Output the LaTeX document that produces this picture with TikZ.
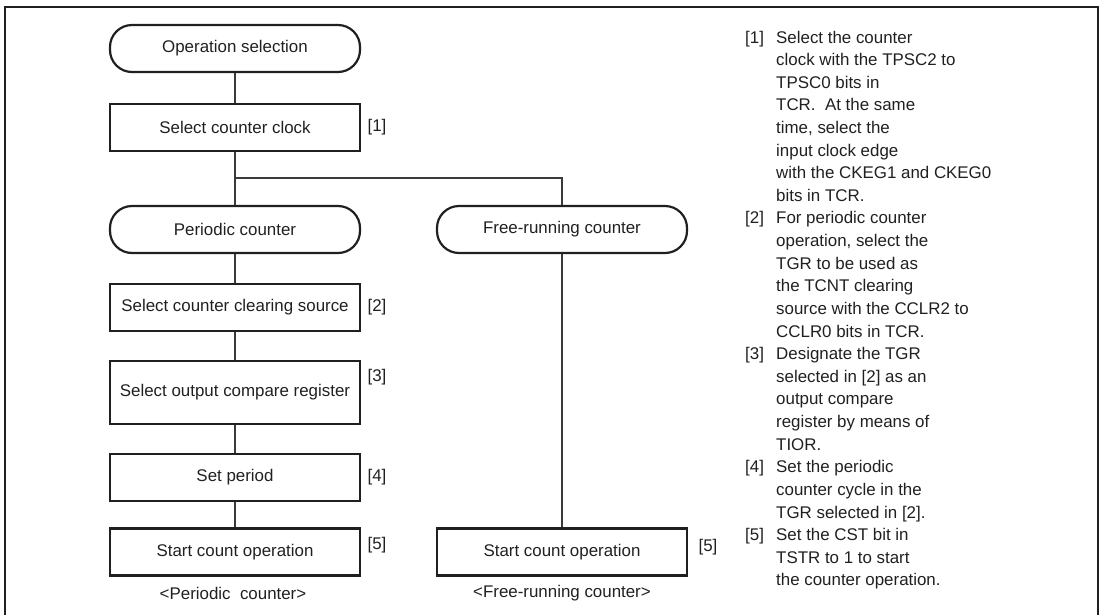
\documentclass[tikz,border=0pt]{standalone}
\usepackage{fontspec}
\setmainfont{Liberation Sans}
\definecolor{ink}{HTML}{231F20}
\definecolor{wire}{HTML}{3A3A3A}
\begin{document}
\begin{tikzpicture}[x=1pt,y=-1pt,
  every node/.style={font=\fontsize{16.9}{22.6}\selectfont, text=ink, inner sep=0pt},
  boxstyle/.style={draw=ink, line width=2.2pt, minimum width=250pt, minimum height=47pt},
  termstyle/.style={draw=ink, line width=2.2pt, rounded corners=22pt, minimum width=250pt, minimum height=47pt},
  wirestyle/.style={draw=wire, line width=1.2pt},
  framestyle/.style={draw=ink, line width=2.2pt}]
\useasboundingbox (0,0) rectangle (1101,614);
% outer frame (open at bottom, cropped)
\draw[framestyle] (5,616) -- (5,7) -- (1098,7) -- (1098,616);

% left column
\node[termstyle] (op) at (235,48.5) {Operation selection};
\node[boxstyle] (clk) at (235,127.5) {Select counter clock};
\node[termstyle] (per) at (235,229.5) {Periodic counter};
\node[boxstyle] (clr) at (235,307.5) {Select counter clearing source};
\node[boxstyle, minimum height=63pt] (ocr) at (235,392.5) {Select output compare register};
\node[boxstyle] (prd) at (235,477.5) {Set period};
\node[boxstyle] (st1) at (235,552) {Start count operation};
\node (cap1) at (233,593) {<Periodic\ \ counter>};

% right column
\node[termstyle] (free) at (562,229.5) {Free-running counter};
\node[boxstyle] (st2) at (562,552) {Start count operation};
\node (cap2) at (562,593) {<Free-running counter>};

% step labels
\node (l1) at (377,127) {[1]};
\node (l2) at (377,307) {[2]};
\node (l3) at (377,377) {[3]};
\node (l4) at (377,477) {[4]};
\node (l5) at (377,545) {[5]};
\node (l5b) at (708,547) {[5]};

% connectors
\coordinate (br) at (235,178);
\draw[wirestyle] (op) -- (clk);
\draw[wirestyle] (clk) -- (per);
\draw[wirestyle] (br) -| (free.north);
\draw[wirestyle] (per) -- (clr);
\draw[wirestyle] (clr) -- (ocr);
\draw[wirestyle] (ocr) -- (prd);
\draw[wirestyle] (prd) -- (st1);
\draw[wirestyle] (free) -- (st2);

% notes
\foreach \n/\y in {1/1,2/9,3/15,4/20,5/23}{
  \node[anchor=base west] (k\n) at (745,{43+(\y-1)*22.62}) {[\n]};
}
\foreach \t [count=\i] in {
  {Select the counter},
  {clock with the TPSC2 to},
  {TPSC0 bits in},
  {TCR.\ \ At the same},
  {time, select the},
  {input clock edge},
  {with the CKEG1 and CKEG0},
  {bits in TCR.},
  {For periodic counter},
  {operation, select the},
  {TGR to be used as},
  {the TCNT clearing},
  {source with the CCLR2 to},
  {CCLR0 bits in TCR.},
  {Designate the TGR},
  {selected in [2] as an},
  {output compare},
  {register by means of},
  {TIOR.},
  {Set the periodic},
  {counter cycle in the},
  {TGR selected in [2].},
  {Set the CST bit in},
  {TSTR to 1 to start},
  {the counter operation.}}{
  \node[anchor=base west] (t\i) at (776,{43+(\i-1)*22.62}) {\t};
}
\end{tikzpicture}
\end{document}
